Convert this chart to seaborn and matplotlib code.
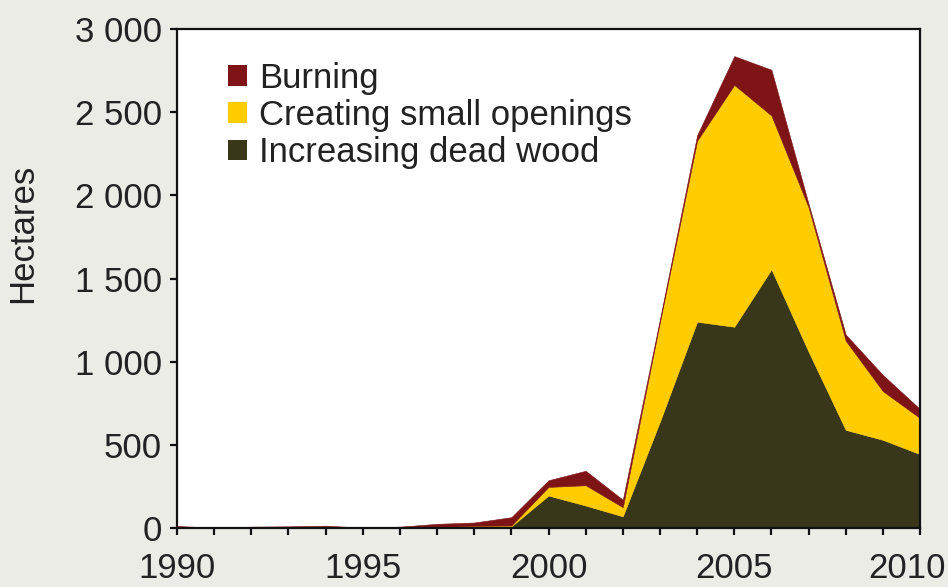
import matplotlib
matplotlib.use("Agg")
import matplotlib.pyplot as plt
import matplotlib.transforms as mtransforms
import seaborn as sns
import numpy as np
from matplotlib.patches import Patch
from matplotlib.ticker import FuncFormatter, MultipleLocator

years = list(range(1990, 2011))
dead_wood = [0, 0, 0, 0, 0, 0, 0, 3, 10, 10, 195, 135, 70, 640, 1240, 1210, 1555, 1060, 590, 530, 444]
small_openings = [0, 0, 0, 0, 0, 0, 0, 2, 3, 5, 52, 122, 55, 600, 1088, 1454, 925, 868, 536, 293, 217]
burning = [12, 2, 8, 10, 14, 2, 8, 20, 20, 50, 40, 87, 45, 15, 33, 173, 275, 21, 37, 97, 54]

labels = ["Increasing dead wood", "Creating small openings", "Burning"]
colors = ["#38371a", "#ffcc00", "#7e1416"]
y_ticks = [0, 500, 1000, 1500, 2000, 2500, 3000]
x_ticks = [1990, 1995, 2000, 2005, 2010]

sns.set_style("ticks")
plt.rcParams["font.family"] = ["Liberation Sans", "DejaVu Sans"]

bg = "#ececE7"
fs = 25
fig = plt.figure(figsize=(9.48, 5.87), dpi=100, facecolor=bg)
ax = fig.add_axes([177 / 948, 1 - 528 / 587, (920 - 177) / 948, (528 - 29) / 587])
ax.set_facecolor("white")

ax.stackplot(years, dead_wood, small_openings, burning, colors=colors,
             edgecolor="face", linewidth=0.4)

ax.set_xlim(1990, 2010)
ax.set_ylim(0, 3000)
ax.set_xticks(x_ticks)
ax.xaxis.set_minor_locator(MultipleLocator(1))
ax.set_yticks(y_ticks)
ax.yaxis.set_major_formatter(FuncFormatter(lambda v, p: f"{v:,.0f}".replace(",", " ")))

for s in ax.spines.values():
    s.set_visible(True)
    s.set_color("#111111")
    s.set_linewidth(1.6)

ax.tick_params(axis="both", which="both", direction="out", color="#111111",
               width=1.6, labelsize=fs, labelcolor="#222222")
ax.tick_params(axis="y", length=5, pad=6)
ax.tick_params(axis="x", which="both", length=5, pad=12)

# last year label sits a bit left so it stays inside the figure
last = ax.xaxis.get_major_ticks()[-1].label1
last.set_transform(last.get_transform() +
                   mtransforms.ScaledTranslation(-0.13, 0, fig.dpi_scale_trans))

ax.set_ylabel("Hectares", fontsize=fs, color="#222222")
ax.yaxis.set_label_coords(-0.186, 0.59)

handles = [Patch(facecolor=c, edgecolor="none") for c in colors[::-1]]
ax.legend(handles, labels[::-1], loc="upper left", bbox_to_anchor=(0.069, 0.934),
          frameon=False, fontsize=fs, handlelength=0.55, handleheight=0.55,
          handletextpad=0.33, labelspacing=0.12, borderpad=0, borderaxespad=0,
          labelcolor="#222222")

fig.savefig("out.png", dpi=100, facecolor=bg)
